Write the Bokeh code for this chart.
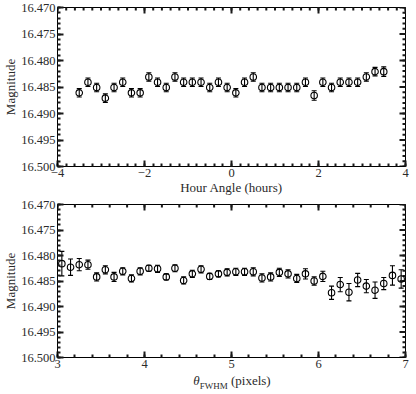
from bokeh.plotting import figure
from bokeh.models import Range1d, FixedTicker, Whisker, TeeHead, ColumnDataSource, Div
from bokeh.layouts import column
from bokeh.embed import file_html
from bokeh.resources import INLINE

# ---------------- data ----------------
hour_angle = [-3.5, -3.3, -3.1, -2.9, -2.7, -2.5, -2.3, -2.1, -1.9, -1.7, -1.5, -1.3,
              -1.1, -0.9, -0.7, -0.5, -0.3, -0.1, 0.1, 0.3, 0.5, 0.7, 0.9, 1.1,
              1.3, 1.5, 1.7, 1.9, 2.1, 2.3, 2.5, 2.7, 2.9, 3.1, 3.3, 3.5]
ha_mag = [16.4861, 16.4841, 16.4851, 16.4871, 16.4851, 16.4841, 16.4861, 16.4861,
          16.4831, 16.4841, 16.4851, 16.4831, 16.4841, 16.4841, 16.4841, 16.4851,
          16.4841, 16.4851, 16.4861, 16.4841, 16.4831, 16.4851, 16.4851, 16.4851,
          16.4851, 16.4851, 16.4841, 16.4866, 16.4841, 16.4851, 16.4841, 16.4841,
          16.4841, 16.4831, 16.4821, 16.4821]
ha_err = [0.0008, 0.0008, 0.0008, 0.0008, 0.0008, 0.0008, 0.0008, 0.0008, 0.0008,
          0.0008, 0.0008, 0.0008, 0.0008, 0.0008, 0.0008, 0.0008, 0.0008, 0.0008,
          0.0008, 0.0008, 0.0008, 0.0008, 0.0008, 0.0008, 0.0008, 0.0008, 0.0008,
          0.0009, 0.0008, 0.0008, 0.0008, 0.0008, 0.0008, 0.0008, 0.0008, 0.0009]

fwhm = [3.05, 3.15, 3.25, 3.35, 3.45, 3.55, 3.65, 3.75, 3.85, 3.95,
        4.05, 4.15, 4.25, 4.35, 4.45, 4.55, 4.65, 4.75, 4.85, 4.95,
        5.05, 5.15, 5.25, 5.35, 5.45, 5.55, 5.65, 5.75, 5.85, 5.95,
        6.05, 6.15, 6.25, 6.35, 6.45, 6.55, 6.65, 6.75, 6.85, 6.95]
fwhm_mag = [16.4816, 16.4823, 16.4818, 16.4818, 16.4842, 16.4828, 16.4842, 16.4831,
            16.4845, 16.4831, 16.4825, 16.4826, 16.4842, 16.4825, 16.4849, 16.4836,
            16.4827, 16.4841, 16.4836, 16.4833, 16.4832, 16.4832, 16.4832, 16.4844,
            16.4842, 16.4833, 16.4836, 16.4845, 16.4836, 16.4850, 16.4841, 16.4873,
            16.4857, 16.4872, 16.4848, 16.4860, 16.4868, 16.4855, 16.4839, 16.4846]
fwhm_err = [0.0024, 0.0016, 0.0012, 0.0009, 0.0008, 0.0008, 0.0009, 0.0007,
            0.0007, 0.0007, 0.0006, 0.0007, 0.0006, 0.0007, 0.0007, 0.0007,
            0.0007, 0.0006, 0.0006, 0.0007, 0.0007, 0.0007, 0.0008, 0.0008,
            0.0008, 0.0008, 0.0008, 0.0008, 0.0010, 0.0008, 0.0010, 0.0013,
            0.0014, 0.0017, 0.0013, 0.0013, 0.0016, 0.0012, 0.0019, 0.0018]

y_major = [16.470, 16.475, 16.480, 16.485, 16.490, 16.495, 16.500]
y_minor = [16.470 + 0.001 * i for i in range(31)]
ha_major = [-4, -2, 0, 2, 4]
ha_minor = [-4 + 0.2 * i for i in range(41)]
fw_major = [3, 4, 5, 6, 7]
fw_minor = [3 + 0.2 * i for i in range(21)]

FONT = "Liberation Serif"
TXT = "#2a2a2a"
TICK_C = "#1a1a1a"
W = 410
TICK_W = 2


def make_panel(x, mag, err, xr, xmaj, xmin, height, top_border, bottom_border, xlabel):
    p = figure(width=W, height=height, output_backend="svg", toolbar_location=None,
               x_range=Range1d(*xr), y_range=Range1d(16.500, 16.470),
               min_border_left=10, min_border_right=5, min_border_top=top_border,
               min_border_bottom=bottom_border)
    p.xgrid.grid_line_color = None
    p.ygrid.grid_line_color = None
    p.outline_line_color = "black"

    def style(ax):
        ax.axis_line_color = "black"
        ax.major_tick_line_color = TICK_C
        ax.minor_tick_line_color = TICK_C
        ax.major_tick_line_width = TICK_W
        ax.minor_tick_line_width = TICK_W
        ax.major_tick_in = 6
        ax.major_tick_out = 0
        ax.minor_tick_in = 3
        ax.minor_tick_out = 0
        ax.major_label_text_font = FONT
        ax.major_label_text_font_size = "12.5px"
        ax.major_label_text_color = TXT
        ax.major_label_standoff = 2
        ax.axis_label_text_font = FONT
        ax.axis_label_text_font_size = "13px"
        ax.axis_label_text_font_style = "normal"
        ax.axis_label_text_color = TXT
        ax.axis_label_standoff = 0

    xb = p.xaxis[0]
    xb.ticker = FixedTicker(ticks=xmaj, minor_ticks=xmin)
    style(xb)
    xb.major_label_overrides = {v: (("\u2212" + str(abs(v))) if v < 0 else str(v)) for v in xmaj}
    if xlabel:
        xb.axis_label = xlabel

    yl = p.yaxis[0]
    yl.ticker = FixedTicker(ticks=y_major, minor_ticks=y_minor)
    yl.axis_label = "Magnitude"
    style(yl)
    yl.major_label_overrides = {v: "%.3f" % v for v in y_major}

    # inward ticks on the top and right edges: dash markers centred on the frame
    # edge (the outer half is clipped away by the frame)
    ye = p.y_range.end
    xe = p.x_range.end
    p.scatter(xmin, [ye] * len(xmin), marker="dash", angle=1.5708, size=6,
              line_color=TICK_C, line_width=TICK_W)
    p.scatter(xmaj, [ye] * len(xmaj), marker="dash", angle=1.5708, size=12,
              line_color=TICK_C, line_width=TICK_W)
    p.scatter([xe] * len(y_minor), y_minor, marker="dash", size=6,
              line_color=TICK_C, line_width=TICK_W)
    p.scatter([xe] * len(y_major), y_major, marker="dash", size=12,
              line_color=TICK_C, line_width=TICK_W)

    src = ColumnDataSource(dict(x=x, y=mag,
                                upper=[m + e for m, e in zip(mag, err)],
                                lower=[m - e for m, e in zip(mag, err)]))
    w = Whisker(source=src, base="x", upper="upper", lower="lower",
                line_color="black", line_width=1.1,
                upper_head=TeeHead(size=5, line_color="black", line_width=1.1),
                lower_head=TeeHead(size=5, line_color="black", line_width=1.1))
    p.add_layout(w)
    p.scatter("x", "y", source=src, marker="circle", size=6.5, fill_color=None,
              line_color="black", line_width=1.1)
    return p


p1 = make_panel(hour_angle, ha_mag, ha_err, (-4, 4), ha_major, ha_minor,
                197, 7, 30, "Hour Angle (hours)")
p2 = make_panel(fwhm, fwhm_mag, fwhm_err, (3, 7), fw_major, fw_minor,
                176, 7, 16, None)

label_html = (
    '<div style="width:%dpx; box-sizing:border-box; padding-left:54px; text-align:center; '
    'font-family:\'Liberation Serif\'; font-size:13px; line-height:16px; color:%s; '
    'white-space:nowrap;"><i>\u03b8</i><sub style="font-size:9px; line-height:0;">FWHM</sub>'
    ' (pixels)</div>' % (W, TXT)
)
xlabel2 = Div(text=label_html, width=W, height=18, margin=(0, 0, 0, 0))

layout = column(p1, p2, xlabel2, spacing=0)
open("out.html", "w").write(file_html(layout, INLINE))
